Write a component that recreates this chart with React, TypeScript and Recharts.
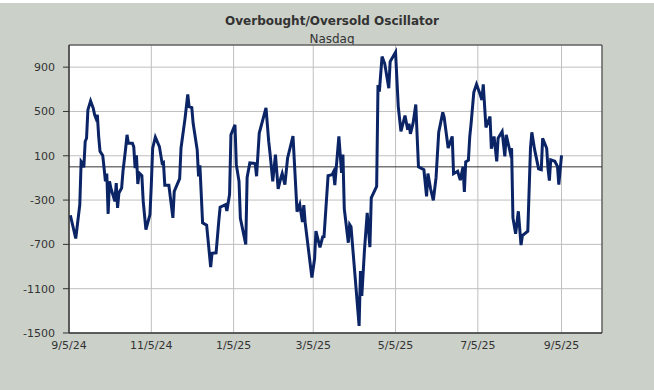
import React from "react";
import { LineChart, Line, XAxis, YAxis, CartesianGrid, ReferenceLine, ReferenceArea } from "recharts";

const TITLE = "Overbought/Oversold Oscillator";
const SUBTITLE = "Nasdaq";

const dates = [
  "9/6/24","9/10/24","9/13/24","9/14/24","9/15/24","9/16/24","9/17/24","9/18/24","9/19/24","9/21/24",
  "9/23/24","9/24/24","9/25/24","9/26/24","9/27/24","9/28/24","9/30/24","10/1/24","10/2/24","10/3/24",
  "10/4/24","10/5/24","10/6/24","10/9/24","10/10/24","10/11/24","10/12/24","10/14/24","10/15/24","10/17/24",
  "10/18/24","10/19/24","10/22/24","10/23/24","10/24/24","10/25/24","10/26/24","10/27/24","10/29/24","10/30/24",
  "11/1/24","11/4/24","11/5/24","11/6/24","11/8/24","11/11/24","11/13/24","11/14/24","11/15/24","11/18/24",
  "11/21/24","11/22/24","11/26/24","11/27/24","11/30/24","12/2/24","12/3/24","12/5/24","12/6/24","12/9/24",
  "12/10/24","12/11/24","12/13/24","12/16/24","12/19/24","12/20/24","12/23/24","12/25/24","12/26/24","12/30/24",
  "12/31/24","1/2/25","1/3/25","1/6/25","1/7/25","1/9/25","1/10/25","1/14/25","1/15/25","1/17/25",
  "1/21/25","1/22/25","1/24/25","1/29/25","1/31/25","2/1/25","2/3/25","2/5/25","2/7/25","2/9/25",
  "2/10/25","2/12/25","2/14/25","2/18/25","2/21/25","2/23/25","2/25/25","2/26/25","2/27/25","3/4/25",
  "3/6/25","3/7/25","3/10/25","3/12/25","3/13/25","3/16/25","3/19/25","3/20/25","3/21/25","3/24/25",
  "3/26/25","3/27/25","3/28/25","3/31/25","4/1/25","4/2/25","4/8/25","4/9/25","4/10/25","4/12/25",
  "4/14/25","4/16/25","4/17/25","4/21/25","4/22/25","4/23/25","4/25/25","4/27/25","4/30/25","5/1/25",
  "5/5/25","5/7/25","5/9/25","5/12/25","5/14/25","5/15/25","5/16/25","5/18/25","5/20/25","5/22/25",
  "5/26/25","5/28/25","5/29/25","5/31/25","6/2/25","6/4/25","6/6/25","6/9/25","6/10/25","6/13/25",
  "6/16/25","6/17/25","6/20/25","6/22/25","6/24/25","6/25/25","6/26/25","6/28/25","6/29/25","6/30/25",
  "7/2/25","7/4/25","7/6/25","7/8/25","7/9/25","7/11/25","7/14/25","7/15/25","7/17/25","7/19/25",
  "7/20/25","7/23/25","7/25/25","7/26/25","7/28/25","7/29/25","7/30/25","7/31/25","8/2/25","8/4/25",
  "8/6/25","8/7/25","8/11/25","8/13/25","8/14/25","8/16/25","8/19/25","8/21/25","8/22/25","8/25/25",
  "8/26/25","8/27/25","8/28/25","8/31/25","9/2/25","9/3/25","9/5/25"
];

const oscillator = [
  -437,-647,-341,49,33,-5,229,258,514,595,
  528,470,438,470,273,139,103,-11,-131,-60,
  -425,-131,-190,-311,-147,-371,-236,-191,-41,168,
  289,213,213,180,-11,103,-155,-56,-80,-311,
  -566,-431,-161,168,268,183,33,40,-167,-167,
  -461,-221,-107,168,438,654,543,535,393,154,
  -86,13,-506,-527,-905,-780,-776,-491,-365,-341,
  -398,-248,290,380,20,-131,-465,-700,-95,35,
  30,-85,305,533,229,120,-130,110,-200,-100,
  -60,-160,80,278,-405,-340,-497,-345,-500,-1000,
  -830,-580,-727,-632,-630,-80,-70,-45,-165,275,
  -55,110,-377,-685,-521,-540,-1436,-941,-1166,-746,
  -416,-725,-281,-176,739,679,995,930,710,950,
  1035,546,320,463,335,390,298,395,563,0,
  -26,-266,-60,-200,-302,-100,313,492,450,170,
  275,-62,-40,-120,0,-227,45,60,274,393,
  673,745,679,604,745,355,454,163,274,49,
  258,319,94,289,184,130,168,-461,-605,-401,
  -707,-620,-581,168,312,160,-17,-25,258,168,
  -17,-125,64,50,4,-161,103
];

const xTickLabels = ["9/5/24","11/5/24","1/5/25","3/5/25","5/5/25","7/5/25","9/5/25"];
const xDomainLabels = ["9/5/24","10/5/25"];
const yTicks = [-1500,-1100,-700,-300,100,500,900];
const yDomain = [-1500, 1100];

const parse = (s: string) => {
  const [m, d, y] = s.split("/").map(Number);
  return Date.UTC(2000 + y, m - 1, d);
};
const fmt = (t: number) => {
  const dt = new Date(t);
  return `${dt.getUTCMonth() + 1}/${dt.getUTCDate()}/${String(dt.getUTCFullYear()).slice(2)}`;
};

const data = dates.map((d, i) => ({ t: parse(d), v: oscillator[i] }));
const xTicks = xTickLabels.map(parse);
const xDomain = xDomainLabels.map(parse);

const FONT = "Tahoma, 'DejaVu Sans', sans-serif";

export default function App() {
  return (
    <div style={{ position: "absolute", left: 0, top: 0, width: 654, height: 390, background: "#CBD0C9", overflow: "hidden", fontFamily: FONT }}>
      <div style={{ position: "absolute", left: 0, top: 0, width: 654, height: 3, background: "#fff" }} />
      <div style={{ position: "absolute", left: 0, top: 14, width: 664, textAlign: "center", fontSize: 12, lineHeight: "14px", fontWeight: "bold", color: "#333" }}>{TITLE}</div>
      <div style={{ position: "absolute", left: 0, top: 32, width: 664, textAlign: "center", fontSize: 12, lineHeight: "14px", color: "#333" }}>{SUBTITLE}</div>
      <div style={{ position: "absolute", left: 0, top: 0 }}>
        <LineChart width={654} height={390} data={data} margin={{ top: 45, right: 52, bottom: 27, left: 0 }}>
          <CartesianGrid stroke="#BFBFBF" fill="#FFFFFF" />
          <XAxis
            type="number"
            dataKey="t"
            domain={xDomain}
            ticks={xTicks}
            tickFormatter={fmt}
            height={30}
            tickLine={false}
            axisLine={{ stroke: "#333" }}
            tick={{ fontSize: 11, fill: "#333", fontFamily: FONT }}
            allowDataOverflow
          />
          <YAxis
            type="number"
            domain={yDomain}
            ticks={yTicks}
            width={69}
            tickSize={6}
            tickMargin={8}
            tickLine={{ stroke: "#333" }}
            axisLine={{ stroke: "#333" }}
            tick={{ fontSize: 11, fill: "#333", fontFamily: FONT }}
            allowDataOverflow
          />
          <ReferenceLine y={0} stroke="#333" strokeWidth={1} />
          <Line type="linear" dataKey="v" stroke="#0A2466" strokeWidth={3} dot={false} isAnimationActive={false} />
          <ReferenceArea x1={xDomain[0]} x2={xDomain[1]} y1={yDomain[0]} y2={yDomain[1]} fill="none" stroke="#333" strokeWidth={1} fillOpacity={0} />
        </LineChart>
      </div>
    </div>
  );
}
